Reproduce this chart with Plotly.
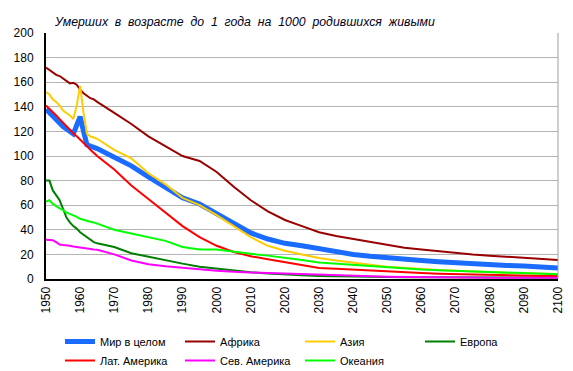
import plotly.graph_objects as go

years = list(range(1950, 1966)) + list(range(1970, 2101, 5))

world = [138, 135, 132, 129, 126, 124, 122, 120, 118, 125, 132, 120, 109, 108, 107, 106,
         99, 92, 83, 74, 66, 61, 53.5, 45, 37.5, 32.5, 29, 27, 24.5, 22, 20, 18.5, 17,
         16, 15, 14, 13, 12.5, 12, 11, 10.5, 10, 9]
africa = [172, 170, 168, 166, 165, 163, 161, 159, 159.5, 158, 154, 151, 149, 147, 146, 144,
          135, 126, 116, 108, 100, 96, 87, 75, 64, 55, 48, 43, 38, 35, 32.5, 30, 27.5,
          25.5, 24, 22.5, 21.5, 20, 19, 18, 17, 16.5, 15.5]
asia = [152, 150, 146, 144, 141, 137, 135, 133, 130, 141, 157, 135, 118, 116, 115, 114,
        105, 98, 86, 77, 66, 60, 52, 43, 34, 27, 23, 20, 17, 15, 13, 11.5, 10,
        9, 8, 7.3, 6.7, 6, 5.4, 5, 4.6, 4.3, 4]
europe = [80, 80, 72, 68, 64, 57, 50, 46, 43, 41, 38, 36, 34, 32, 30, 29,
          26, 21, 18, 15.5, 12.5, 10, 8.5, 6.5, 5.5, 4.5, 3.5, 3, 2.5, 2.2, 2, 1.8, 1.6,
          1.5, 1.4, 1.3, 1.2, 1.2, 1.1, 1.1, 1, 1, 1]
latam = [141, 138.5, 136, 133, 130, 127, 124, 121, 118.5, 116, 113.5, 111, 108, 105, 102.5, 100,
         89, 76, 65, 54, 43, 34, 27, 22, 18.5, 16, 13.5, 11.5, 9, 8.3, 7.5, 6.8, 6,
         5.3, 4.8, 4.3, 3.9, 3.5, 3.2, 3, 2.8, 2.5, 2.4]
namerica = [32, 32, 31.5, 30, 28, 27.6, 27.5, 27, 26.5, 26, 25.8, 25.5, 25, 24.5, 24, 23.8,
            20, 15, 12, 10.3, 9, 7.5, 6.8, 5.8, 5.1, 4.8, 4.5, 4, 3.4, 3, 2.5, 2.2, 1.9,
            1.7, 1.5, 1.4, 1.3, 1.2, 1.1, 1.1, 1, 1, 1]
oceania = [63, 64, 61, 59, 57.5, 56, 54, 53, 52, 50.5, 49, 48, 47, 46.5, 46, 45,
           40, 37, 34, 31, 26, 24, 24, 22, 20.5, 19, 17.5, 15.5, 13.5, 12.5, 11.5, 10.3, 9.3,
           8.5, 7.8, 7.2, 6.7, 6, 5.5, 5, 4.5, 4.2, 3.8]

series_names = ["Мир в целом", "Африка", "Азия", "Европа",
                "Лат. Америка", "Сев. Америка", "Океания"]
series_values = [world, africa, asia, europe, latam, namerica, oceania]
colors = ["#1a6cff", "#990000", "#ffcc00", "#008000", "#ff0000", "#ff00ff", "#00ff00"]
widths = [5, 2, 2, 2, 2, 2, 2]

title_text = "Умерших\u00a0 в\u00a0 возрасте\u00a0 до\u00a0 1\u00a0 года\u00a0 на\u00a0 1000\u00a0 родившихся\u00a0 живыми"

# The page body has an 8px margin, so the figure is sized 8px smaller on each axis.
W, H = 565, 363

fig = go.Figure()
for name, vals, c, w in zip(series_names, series_values, colors, widths):
    fig.add_trace(go.Scatter(x=years, y=vals, name=name, mode="lines",
                             line=dict(color=c, width=w)))

fig.update_layout(
    width=W, height=H,
    margin=dict(l=38, r=15, t=25, b=92),
    paper_bgcolor="white", plot_bgcolor="white",
    font=dict(family="Arial, Liberation Sans, sans-serif", size=12, color="black"),
    showlegend=True,
    legend=dict(orientation="h", xref="container", yref="container",
                x=52 / W, xanchor="left", y=1 - 319 / H, yanchor="top",
                entrywidth=75, font=dict(size=11), tracegroupgap=0,
                bgcolor="rgba(0,0,0,0)", itemwidth=30),
)
fig.add_annotation(text="<i>" + title_text + "</i>", xref="paper", yref="paper",
                   x=(44 - 38) / 512, y=1.0, xanchor="left", yanchor="bottom", yshift=2,
                   showarrow=False, font=dict(size=12.3, color="#000022"))
fig.update_xaxes(range=[1950, 2100], dtick=10, tick0=1950, tickangle=-90,
                 showline=True, linecolor="black", linewidth=2, showgrid=False,
                 ticks="outside", ticklen=1, tickcolor="rgba(0,0,0,0)",
                 zeroline=False, tickfont=dict(size=12), automargin=False)
fig.update_yaxes(range=[0, 200], dtick=20, showline=True, linecolor="black", linewidth=2,
                 showgrid=True, gridcolor="#b4b4b4", gridwidth=1, ticks="",
                 zeroline=False, ticklabelstandoff=8, tickfont=dict(size=12),
                 automargin=False)
fig.add_shape(type="line", xref="paper", yref="paper", x0=1, x1=1, y0=0, y1=1,
              line=dict(color="#a0a0a0", width=1))

fig.write_html("out.html")
